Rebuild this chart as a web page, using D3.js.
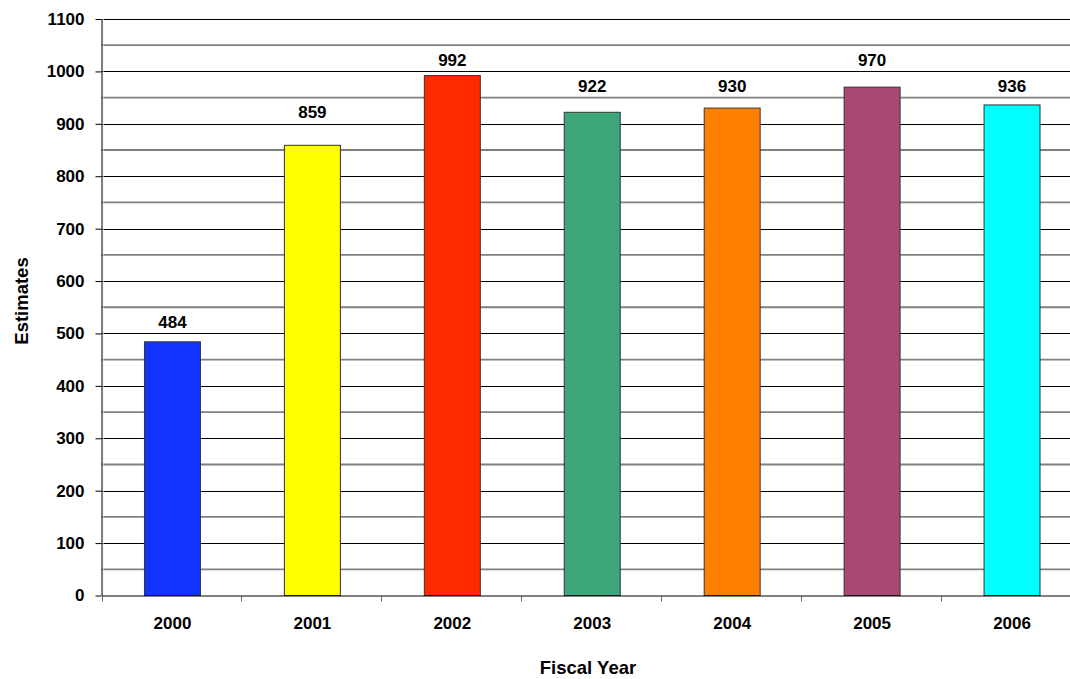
<!DOCTYPE html>
<html>
<head>
<meta charset="utf-8">
<script src="https://cdn.jsdelivr.net/npm/d3@7"></script>
<style>
  html, body { margin: 0; padding: 0; background: #fff; }
  svg { display: block; font-family: "Liberation Sans", Arial, sans-serif; font-weight: bold; }
</style>
</head>
<body>
<svg id="chart" width="1070" height="679"></svg>
<script>
// Fiscal-year estimates
const years = ["2000", "2001", "2002", "2003", "2004", "2005", "2006"];
const estimates = [484, 859, 992, 922, 930, 970, 936];
const barColors = ["#1533FF", "#FFFF00", "#FF2A00", "#3DA67A", "#FF8000", "#A84974", "#00FFFF"];
const majorTicks = [0, 100, 200, 300, 400, 500, 600, 700, 800, 900, 1000, 1100];
const minorTicks = [50, 150, 250, 350, 450, 550, 650, 750, 850, 950, 1050];

const svg = d3.select("#chart");
const plotLeft = 101.5, plotTop = 19, plotBottom = 595.5, plotRight = 1081;
const FONT = "Liberation Sans, Arial, sans-serif";

const x = d3.scaleBand().domain(years).range([plotLeft, plotRight]).padding(0);
const y = d3.scaleLinear().domain([0, 1100]).range([plotBottom, plotTop]);

// minor gridlines
svg.append("g").selectAll("line").data(minorTicks).join("line")
  .attr("x1", plotLeft).attr("x2", plotRight)
  .attr("y1", d => y(d)).attr("y2", d => y(d))
  .attr("stroke", "#808080").attr("stroke-width", 1.8);

// major gridlines
svg.append("g").selectAll("line").data(majorTicks.filter(d => d > 0)).join("line")
  .attr("x1", plotLeft).attr("x2", plotRight)
  .attr("y1", d => Math.round(y(d)) + 0.5).attr("y2", d => Math.round(y(d)) + 0.5)
  .attr("stroke", "#000").attr("stroke-width", 1);

// faint inner edge of the plot area
svg.append("line")
  .attr("x1", plotLeft + 1.5).attr("x2", plotLeft + 1.5)
  .attr("y1", plotTop).attr("y2", plotBottom)
  .attr("stroke", "#d6ffff").attr("stroke-width", 1);

// bars
const bw = x.bandwidth() * 0.4;
svg.append("g").selectAll("rect").data(years).join("rect")
  .attr("x", (d) => x(d) + x.bandwidth() / 2 - bw / 2 + 1)
  .attr("width", bw)
  .attr("y", (d, i) => y(estimates[i]))
  .attr("height", (d, i) => y(0) - y(estimates[i]))
  .attr("fill", (d, i) => barColors[i])
  .attr("stroke", "#333").attr("stroke-width", 1);

// value labels, set just above the next 50-unit gridline over each bar
svg.append("g").selectAll("text").data(years).join("text")
  .attr("x", (d) => x(d) + x.bandwidth() / 2 + 1)
  .attr("y", (d, i) => y(Math.ceil(estimates[i] / 50) * 50) - 5.5)
  .attr("text-anchor", "middle")
  .attr("font-size", 17)
  .text((d, i) => estimates[i]);

// y axis
const yAxis = d3.axisLeft(y).tickValues(majorTicks).tickFormat(d3.format("d"))
  .tickSize(6).tickPadding(11).tickSizeOuter(0);
const gy = svg.append("g").attr("transform", `translate(${plotLeft},0)`).call(yAxis);
gy.select(".domain").attr("stroke", "#000");
gy.selectAll(".tick line").attr("stroke", "#000");
gy.selectAll(".tick text").attr("font-size", 17).attr("font-weight", "bold")
  .attr("font-family", FONT).attr("fill", "#000");

// x axis
const xAxis = d3.axisBottom(x).tickSize(0).tickPadding(21.5).tickSizeOuter(0);
const gx = svg.append("g").attr("transform", `translate(0,${plotBottom})`).call(xAxis);
gx.select(".domain").attr("stroke", "#000");
gx.selectAll(".tick text").attr("font-size", 17).attr("font-weight", "bold")
  .attr("font-family", FONT).attr("fill", "#000")
  .attr("dx", 1);

// category separators below the baseline
const edges = years.map(d => x(d));
svg.append("g").selectAll("line").data(edges).join("line")
  .attr("x1", d => Math.round(d) + 0.5).attr("x2", d => Math.round(d) + 0.5)
  .attr("y1", plotBottom).attr("y2", plotBottom + 6)
  .attr("stroke", "#4a6a70").attr("stroke-width", 1);

// axis titles
svg.append("text")
  .attr("x", 588).attr("y", 674)
  .attr("text-anchor", "middle").attr("font-size", 18.5)
  .text("Fiscal Year");

svg.append("text")
  .attr("transform", `translate(27.5,301) rotate(-90)`)
  .attr("text-anchor", "middle").attr("font-size", 18.5)
  .text("Estimates");
</script>
</body>
</html>
